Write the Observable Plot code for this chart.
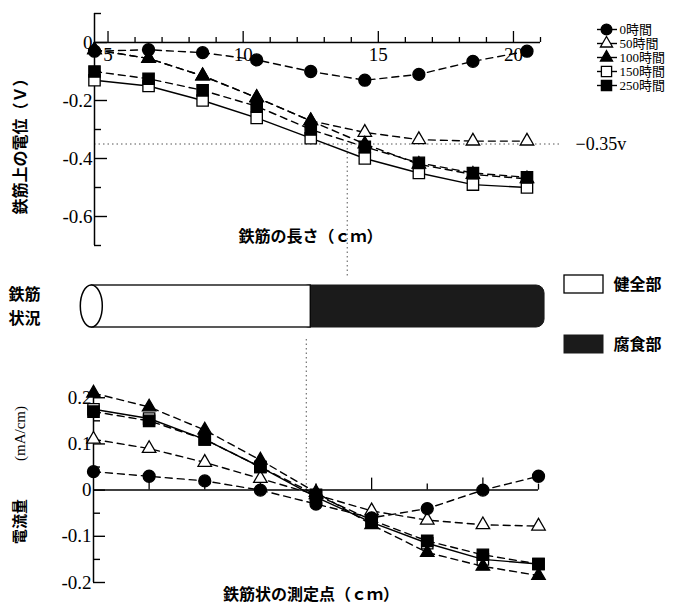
<!DOCTYPE html>
<html><head><meta charset="utf-8">
<script src="https://cdn.jsdelivr.net/npm/d3@7"></script>
<script src="https://cdn.jsdelivr.net/npm/@observablehq/plot@0.6"></script>
<style>
html,body{margin:0;padding:0;background:#fff;}
#chart{position:relative;width:680px;height:607px;overflow:hidden;background:#fff;}
#chart > div{position:absolute;}
#chart svg{overflow:visible;background:transparent;}
</style></head><body><div id="chart"></div>
<script>
// ---- data ----
const seriesNames = ["0時間", "50時間", "100時間", "150時間", "250時間"];
const positions = [4.5, 6.5, 8.5, 10.5, 12.5, 14.5, 16.5, 18.5, 20.5];

const potential0h   = [-0.03, -0.025, -0.035, -0.06, -0.10, -0.13, -0.11, -0.065, -0.03];
const potential50h  = [-0.025, -0.055, -0.115, -0.19, -0.27, -0.31, -0.335, -0.34, -0.34];
const potential100h = [-0.025, -0.055, -0.115, -0.19, -0.27, -0.35, -0.42, -0.455, -0.47];
const potential150h = [-0.13, -0.15, -0.20, -0.26, -0.33, -0.40, -0.45, -0.49, -0.50];
const potential250h = [-0.10, -0.125, -0.165, -0.22, -0.30, -0.36, -0.415, -0.45, -0.465];

const current0h   = [0.04, 0.03, 0.02, 0.0, -0.03, -0.06, -0.04, 0.0, 0.03];
const current50h  = [0.11, 0.09, 0.06, 0.025, -0.01, -0.045, -0.065, -0.075, -0.078];
const current100h = [0.21, 0.18, 0.13, 0.065, -0.005, -0.075, -0.135, -0.165, -0.185];
const current150h = [0.175, 0.155, 0.11, 0.05, -0.015, -0.07, -0.115, -0.15, -0.16];
const current250h = [0.17, 0.15, 0.11, 0.05, -0.01, -0.065, -0.11, -0.14, -0.16];

const topYTickLabels = [0, -0.2, -0.4, -0.6];
const topXTickLabels = [5, 10, 15, 20];
const bottomYTickLabels = [0.2, 0.1, 0, -0.1, -0.2];

const threshold = [{value: -0.35, label: "−0.35v"}];
const thresholdCrossing = 13.85;     // cm where potential reaches -0.35 V
const currentZeroCrossing = 12.15;   // cm where current changes sign
const rebarStates = ["健全部", "腐食部"];
const rebarStart = 4.4, rebarBoundary = 12.5, rebarEnd = 21.15;

const topTitleX = "鉄筋の長さ（ｃｍ）";
const topTitleY = "鉄筋上の電位（Ｖ）";
const bottomTitleX = "鉄筋状の測定点（ｃｍ）";
const bottomTitleY1 = "電流量";
const bottomTitleY2 = "(mA/cm)";
const rebarLabel = "鉄筋\n状況";

// ---- build tables ----
const potentialSeries = [potential0h, potential50h, potential100h, potential150h, potential250h];
const currentSeries = [current0h, current50h, current100h, current150h, current250h];
const toLong = (arrs) => seriesNames.flatMap((s, i) => positions.map((x, j) => ({series: s, x, y: arrs[i][j]})));
const topData = toLong(potentialSeries);
const bottomData = toLong(currentSeries);

// ---- styles ----
const serif = "'Liberation Serif', 'Times New Roman', serif";
const cjk = "'Noto Sans CJK JP', sans-serif";
const legendFont = "'Liberation Serif', 'Noto Sans CJK JP', serif";
const dash = "7,5";
const dotted = "1.5,3";
const style = {
  "0時間":   {symbol: "circle",   fill: "black", r: 6,   dash},
  "50時間":  {symbol: "triangle", fill: "white", r: 5,   dash},
  "100時間": {symbol: "triangle", fill: "black", r: 5,   dash},
  "150時間": {symbol: "square",   fill: "white", r: 6.4, dash: null},
  "250時間": {symbol: "square",   fill: "black", r: 6.4, dash}
};
const drawOrder = ["150時間", "50時間", "0時間", "250時間", "100時間"];
const fmt = d => d === 0 ? "0" : String(d);

function seriesMarks(data) {
  const marks = [];
  for (const s of seriesNames) {
    const st = style[s];
    marks.push(Plot.line(data.filter(d => d.series === s), {x: "x", y: "y", stroke: "black", strokeWidth: 1.4, strokeDasharray: st.dash || undefined}));
  }
  for (const s of drawOrder) {
    const st = style[s];
    marks.push(Plot.dot(data.filter(d => d.series === s), {x: "x", y: "y", symbol: st.symbol, r: st.r, fill: st.fill, stroke: "black", strokeWidth: 1.3}));
  }
  return marks;
}

const svgStyle = {overflow: "visible", background: "transparent"};
function place(el, left, top) {
  const div = document.createElement("div");
  div.style.left = left + "px";
  div.style.top = top + "px";
  div.appendChild(el);
  document.getElementById("chart").appendChild(div);
}

// ---- top chart: potential ----
const topX = [4.5, 21], topY = [-0.7, 0.1];
const topMajorY = d3.range(0, 4).map(i => -0.2 * i);
const topMinorY = [0.1, -0.1, -0.3, -0.5, -0.7];
const topMajorX = [5, 10, 15, 20];
const topMinorX = d3.range(6, 22).filter(v => v % 5 !== 0);

const topPlot = Plot.plot({
  width: 680, height: 260, marginLeft: 94, marginRight: 140, marginTop: 13, marginBottom: 15,
  x: {domain: topX, axis: null},
  y: {domain: topY, axis: null},
  style: svgStyle,
  marks: [
    Plot.ruleY(threshold, {y: "value", x1: () => topX[0], x2: () => topX[1], insetRight: -20, stroke: "#555", strokeDasharray: dotted}),
    Plot.ruleX([thresholdCrossing], {x: d => d, y1: () => threshold[0].value, y2: () => topY[0], insetBottom: -32, stroke: "#555", strokeDasharray: dotted}),
    Plot.text(threshold, {y: "value", text: "label", frameAnchor: "right", dx: 35, textAnchor: "start", fontSize: 18, fontFamily: serif}),
    Plot.ruleX([topX[0]], {x: d => d, stroke: "black", strokeWidth: 1.5}),
    Plot.ruleY([0], {y: d => d, x1: () => topX[0], x2: () => topX[1], stroke: "black", strokeWidth: 1.5}),
    Plot.ruleY(topMajorY, {y: d => d, x1: () => topX[0], x2: () => topX[0], insetRight: -13, stroke: "black", strokeWidth: 1.4}),
    Plot.ruleY(topMinorY, {y: d => d, x1: () => topX[0], x2: () => topX[0], insetRight: -7, stroke: "black", strokeWidth: 1.4}),
    Plot.ruleX(topMajorX, {x: d => d, y1: () => 0, y2: () => 0, insetTop: -11, stroke: "black", strokeWidth: 1.3}),
    Plot.ruleX(topMinorX, {x: d => d, y1: () => 0, y2: () => 0, insetTop: -5, stroke: "black", strokeWidth: 1.3}),
    Plot.text(topYTickLabels, {x: () => topX[0], y: d => d, text: fmt, textAnchor: "end", dx: -2, fontSize: 19, fontFamily: serif}),
    Plot.text(topXTickLabels, {x: d => d, y: () => 0, text: fmt, dy: 12, fontSize: 19, fontFamily: serif}),
    Plot.text([topTitleX], {frameAnchor: "bottom", dy: -4, dx: -7, fontSize: 16, fontWeight: "bold", fontFamily: cjk}),
    Plot.text([topTitleY], {frameAnchor: "left", textAnchor: "middle", rotate: -90, dx: -74, dy: 13, fontSize: 16, fontWeight: "bold", fontFamily: cjk}),
    ...seriesMarks(topData)
  ]
});
place(topPlot, 0, 0);

// ---- top legend ----
const legendMarks = [];
for (const s of seriesNames) {
  const st = style[s];
  legendMarks.push(Plot.ruleY([s], {y: d => d, x1: () => 0, x2: () => 1, stroke: "black", strokeWidth: 1.4}));
  legendMarks.push(Plot.dot([s], {y: d => d, x: () => 0.45, symbol: st.symbol, r: st.r * 0.9, fill: st.fill, stroke: "black", strokeWidth: 1.3}));
}
legendMarks.push(Plot.text(seriesNames, {y: d => d, x: () => 1, dx: 2, textAnchor: "start", fontSize: 13, fontFamily: legendFont}));
const legendPlot = Plot.plot({
  width: 120, height: 100, marginLeft: 37, marginRight: 63, marginTop: 23, marginBottom: 20,
  x: {domain: [0, 1], axis: null},
  y: {type: "point", domain: seriesNames, padding: 0, axis: null},
  style: svgStyle,
  marks: legendMarks
});
place(legendPlot, 560, 5);

// ---- middle: rebar condition ----
const midPlot = Plot.plot({
  width: 680, height: 100, marginLeft: 94, marginRight: 140, marginTop: 0, marginBottom: 0,
  x: {domain: topX, axis: null},
  y: {domain: [0, 1], axis: null},
  style: svgStyle,
  marks: [
    Plot.rect([rebarStates[1]], {x1: () => rebarBoundary, x2: () => rebarEnd, y1: () => 0, y2: () => 1, insetTop: 25, insetBottom: 33, insetLeft: -10, rx: 8, fill: "#1b1b1b", stroke: "#1b1b1b"}),
    Plot.rect([rebarStates[0]], {x1: () => rebarStart, x2: () => rebarBoundary, y1: () => 0, y2: () => 1, insetTop: 25, insetBottom: 33, fill: "white", stroke: "black", strokeWidth: 1.3}),
    Plot.rect([rebarStart], {x1: d => d, x2: d => d, y1: () => 0, y2: () => 1, insetTop: 25, insetBottom: 33, insetLeft: -11, insetRight: -11, rx: 11, ry: 21, fill: "white", stroke: "black", strokeWidth: 1.5}),
    Plot.text([rebarLabel], {frameAnchor: "left", textAnchor: "middle", dx: -70, dy: -6, lineHeight: 1.45, fontSize: 16, fontWeight: "bold", fontFamily: cjk})
  ]
});
place(midPlot, 0, 260);

const stateLegend = Plot.plot({
  width: 120, height: 100, marginLeft: 4, marginRight: 77, marginTop: 15, marginBottom: 7,
  x: {domain: [0, 1], axis: null},
  y: {type: "band", domain: rebarStates, paddingInner: 0.7, paddingOuter: 0, axis: null},
  style: svgStyle,
  marks: [
    Plot.barX([rebarStates[0]], {y: d => d, x1: () => 0, x2: () => 1, fill: "white", stroke: "black", strokeWidth: 1.3}),
    Plot.barX([rebarStates[1]], {y: d => d, x1: () => 0, x2: () => 1, fill: "#1b1b1b", stroke: "#1b1b1b"}),
    Plot.text(rebarStates, {y: d => d, x: () => 1, dx: 10, textAnchor: "start", fontSize: 16, fontWeight: "bold", fontFamily: cjk})
  ]
});
place(stateLegend, 560, 260);

// ---- bottom chart: current ----
const botX = [4.5, 20.5], botY = [-0.2, 0.22];
const botMajorY = [0.2, 0.1, 0, -0.1, -0.2];
const botMinorY = [0.15, 0.05, -0.05, -0.15];
const botTallX = positions.filter((d, i) => i % 2 === 1);
const botShortX = positions.filter((d, i) => i > 0 && i % 2 === 0);

const botPlot = Plot.plot({
  width: 680, height: 247, marginLeft: 93, marginRight: 142, marginTop: 28, marginBottom: 25,
  x: {domain: botX, axis: null},
  y: {domain: botY, axis: null},
  style: svgStyle,
  marks: [
    Plot.ruleX([currentZeroCrossing], {x: d => d, y1: () => botY[1], y2: () => 0, insetTop: -49, stroke: "#555", strokeDasharray: dotted}),
    Plot.ruleX([botX[0]], {x: d => d, stroke: "black", strokeWidth: 1.5}),
    Plot.ruleY([0], {y: d => d, x1: () => botX[0], x2: () => botX[1], stroke: "black", strokeWidth: 1.5}),
    Plot.ruleY(botMajorY, {y: d => d, x1: () => botX[0], x2: () => botX[0], insetRight: -12, stroke: "black", strokeWidth: 1.4}),
    Plot.ruleY(botMinorY, {y: d => d, x1: () => botX[0], x2: () => botX[0], insetRight: -7, stroke: "black", strokeWidth: 1.4}),
    Plot.ruleX(botTallX, {x: d => d, y1: () => 0, y2: () => 0, insetTop: -12, stroke: "black", strokeWidth: 1.3}),
    Plot.ruleX(botShortX, {x: d => d, y1: () => 0, y2: () => 0, insetTop: -6, stroke: "black", strokeWidth: 1.3}),
    Plot.text(bottomYTickLabels, {x: () => botX[0], y: d => d, text: fmt, textAnchor: "end", dx: -2, fontSize: 19, fontFamily: serif}),
    Plot.text([bottomTitleX], {frameAnchor: "bottom", dy: 17, dx: -5, fontSize: 16, fontWeight: "bold", fontFamily: cjk}),
    Plot.text([bottomTitleY1], {frameAnchor: "left", textAnchor: "middle", rotate: -90, dx: -73, dy: 36, fontSize: 15, fontWeight: "bold", fontFamily: cjk}),
    Plot.text([bottomTitleY2], {frameAnchor: "left", textAnchor: "middle", rotate: -90, dx: -73, dy: -52, fontSize: 15, fontFamily: serif}),
    ...seriesMarks(bottomData)
  ]
});
place(botPlot, 0, 360);
</script>
</body></html>
